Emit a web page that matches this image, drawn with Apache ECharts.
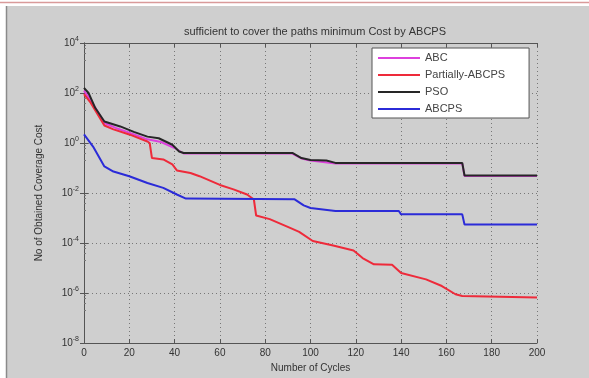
<!DOCTYPE html>
<html>
<head>
<meta charset="utf-8">
<script src="https://cdn.jsdelivr.net/npm/echarts@6/dist/echarts.min.js"></script>
<style>
  html, body { margin: 0; padding: 0; background: #fff; }
  #chart { width: 589px; height: 378px; }
</style>
</head>
<body>
<div id="chart"></div>
<script>
// values (cycles on x, cost on a log y)
const cyclesABC = [0, 3, 6, 9, 14, 20, 28, 34, 40, 44, 92, 96, 100, 111, 167, 168, 200];
const costABC = [125, 50, 18, 6.3, 4, 2.6, 1.4, 1.1, 0.63, 0.38, 0.38, 0.24, 0.2, 0.15, 0.15, 0.048, 0.048];

const cyclesPartial = [0, 3, 6, 9, 13, 20, 28, 29, 30, 35, 39, 41, 47, 51, 60, 66, 72, 75, 76, 82, 91, 95, 101, 110, 119, 123, 128, 136, 140, 151, 158, 164, 167, 200];
const costPartial = [90, 40, 14, 5, 3.5, 2.2, 1.15, 1.0, 0.25, 0.22, 0.14, 0.08, 0.063, 0.047, 0.021, 0.014, 0.0087, 0.0055, 0.00126, 0.0009, 0.0004, 0.00028, 0.00012, 7.9e-5, 5e-5, 2.5e-5, 1.4e-5, 1.35e-5, 6.3e-6, 3.5e-6, 1.9e-6, 8.9e-7, 7.6e-7, 6.6e-7];

const cyclesPSO = [0, 2, 5, 9, 16, 22, 28, 33, 39, 42, 44, 92, 96, 100, 107, 111, 167, 168, 200];
const costPSO = [160, 100, 25, 7.2, 4.6, 2.8, 1.8, 1.55, 0.85, 0.46, 0.4, 0.4, 0.25, 0.21, 0.2, 0.16, 0.16, 0.05, 0.05];

const cyclesABCPS = [0, 4, 9, 13, 20, 28, 35, 41, 45, 93, 97, 100, 111, 139, 140, 167, 168, 200];
const costABCPS = [2.2, 0.72, 0.115, 0.072, 0.047, 0.025, 0.016, 0.0087, 0.006, 0.0056, 0.0032, 0.0025, 0.0019, 0.0019, 0.0014, 0.0014, 0.00055, 0.00055];

const xTicks = [0, 20, 40, 60, 80, 100, 120, 140, 160, 180, 200];

function pairs(xs, ys) {
  return xs.map((x, i) => [x, ys[i]]);
}

function powLabel(v) {
  const e = Math.round(Math.log10(v));
  return "{b|10}{e|" + e + "}";
}

const font = "Liberation Sans, Arial, sans-serif";

const chart = echarts.init(document.getElementById("chart"));

const option = {
  animation: false,
  backgroundColor: "#ffffff",
  graphic: [
    { type: "rect", left: 6, top: 6, shape: { width: 583, height: 372 }, style: { fill: "#cfcfcf" }, silent: true },
    { type: "line", shape: { x1: 0, y1: 2.5, x2: 589, y2: 2.5 }, style: { stroke: "#d99a9a", lineWidth: 1.5 }, silent: true },
    { type: "line", shape: { x1: 6.5, y1: 6, x2: 6.5, y2: 378 }, style: { stroke: "#8a8a8a", lineWidth: 1.5 }, silent: true },
  ],
  title: {
    text: "sufficient to cover the paths minimum Cost by ABCPS",
    left: 310,
    textAlign: "center",
    top: 21,
    textStyle: { fontFamily: font, fontSize: 11, fontWeight: "normal", color: "#333" },
  },
  color: ["#dd40dd", "#ee2a3a", "#262626", "#2b2bd8"],
  legend: {
    left: 372,
    top: 48,
    orient: "vertical",
    backgroundColor: "#ffffff",
    borderColor: "#555",
    borderWidth: 1,
    borderRadius: 0,
    padding: [4, 24, 3, 6],
    itemGap: 5,
    itemWidth: 42,
    itemHeight: 2,
    icon: "rect",
    textStyle: { fontFamily: font, fontSize: 11, color: "#444", lineHeight: 12 },
    data: ["ABC", "Partially-ABCPS", "PSO", "ABCPS"],
  },
  grid: {
    left: 84,
    right: 52,
    top: 43,
    bottom: 34,
    show: true,
    backgroundColor: "#ffffff",
    borderColor: "#555",
    borderWidth: 1,
  },
  xAxis: [
    {
      type: "value",
      min: 0,
      max: 200,
      interval: 20,
      name: "Number of Cycles",
      nameLocation: "middle",
      nameGap: 20,
      nameTextStyle: { fontFamily: font, fontSize: 10, color: "#333" },
      axisLine: { lineStyle: { color: "#555" } },
      axisTick: { inside: true, length: 4, lineStyle: { color: "#555" } },
      axisLabel: {
        fontFamily: font,
        fontSize: 10,
        color: "#333",
        margin: 5,
        formatter: (v) => (xTicks.includes(v) ? String(v) : ""),
      },
      splitLine: { show: true, lineStyle: { color: "#777", type: [1, 3], width: 1 } },
    },
    {
      type: "value",
      position: "top",
      min: 0,
      max: 200,
      interval: 20,
      axisLine: { lineStyle: { color: "#555" } },
      axisTick: { inside: true, length: 4, lineStyle: { color: "#555" } },
      axisLabel: { show: false },
      splitLine: { show: false },
    },
  ],
  yAxis: [
    {
      type: "log",
      logBase: 10,
      min: 1e-8,
      max: 1e4,
      interval: 2,
      name: "No of Obtained Coverage Cost",
      nameLocation: "middle",
      nameGap: 40,
      nameTextStyle: { fontFamily: font, fontSize: 10, color: "#333" },
      axisLine: { lineStyle: { color: "#555" } },
      axisTick: { inside: true, length: 4, lineStyle: { color: "#555" } },
      minorTick: { show: true, splitNumber: 5, length: 2, lineStyle: { color: "#777" } },
      axisLabel: {
        margin: 5,
        formatter: powLabel,
        rich: {
          b: { fontFamily: font, fontSize: 10, color: "#333" },
          e: { fontFamily: font, fontSize: 7, color: "#333", padding: [0, 0, 7, 0] },
        },
      },
      splitLine: { show: true, lineStyle: { color: "#777", type: [1, 3], width: 1 } },
    },
    {
      type: "log",
      logBase: 10,
      position: "right",
      min: 1e-8,
      max: 1e4,
      interval: 2,
      axisLine: { lineStyle: { color: "#555" } },
      axisTick: { inside: true, length: 4, lineStyle: { color: "#555" } },
      axisLabel: { show: false },
      splitLine: { show: false },
    },
  ],
  series: [
    {
      name: "ABC",
      type: "line",
      symbol: "none",
      lineStyle: { width: 2 },
      data: pairs(cyclesABC, costABC),
    },
    {
      name: "Partially-ABCPS",
      type: "line",
      symbol: "none",
      lineStyle: { width: 2 },
      data: pairs(cyclesPartial, costPartial),
    },
    {
      name: "PSO",
      type: "line",
      symbol: "none",
      lineStyle: { width: 2 },
      data: pairs(cyclesPSO, costPSO),
    },
    {
      name: "ABCPS",
      type: "line",
      symbol: "none",
      lineStyle: { width: 2 },
      data: pairs(cyclesABCPS, costABCPS),
    },
  ],
};

chart.setOption(option);
</script>
</body>
</html>
